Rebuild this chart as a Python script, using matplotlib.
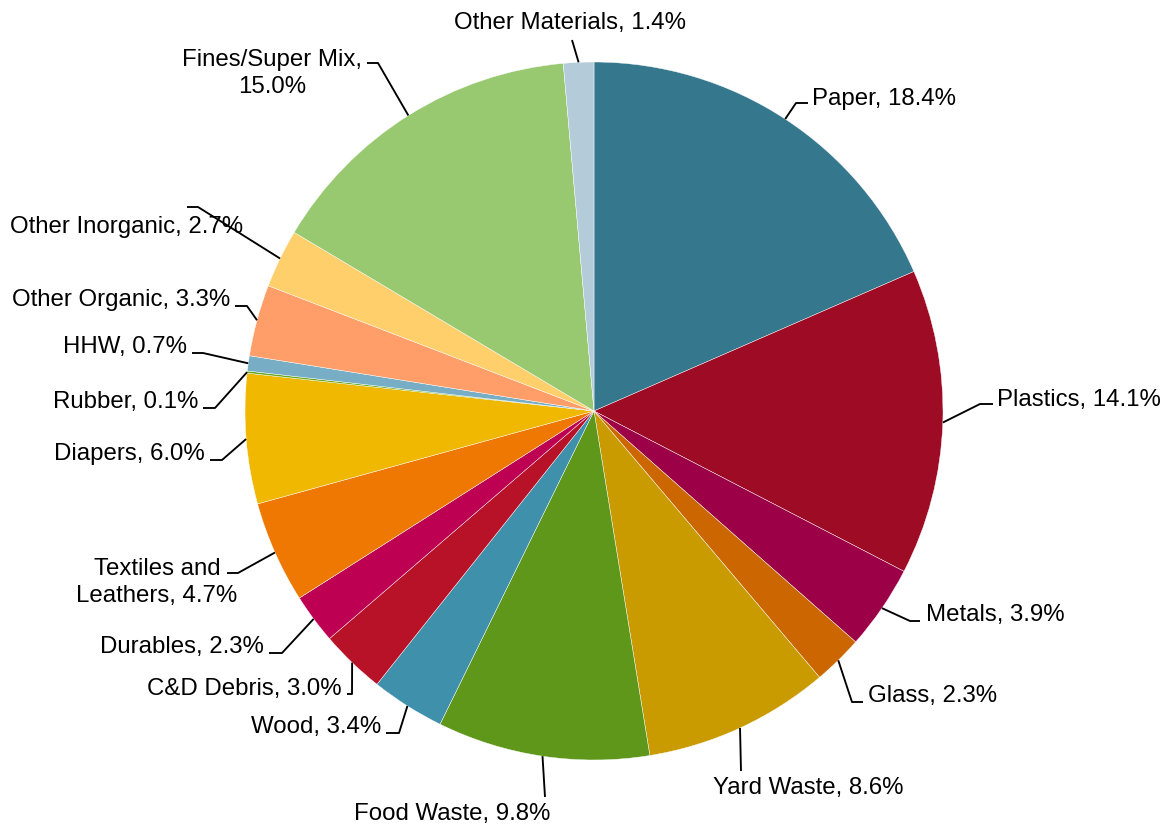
import matplotlib.pyplot as plt
import numpy as np

plt.rcParams['font.family'] = ['Liberation Sans', 'DejaVu Sans']

# waste composition, clockwise from 12 o'clock
materials = ["Paper", "Plastics", "Metals", "Glass", "Yard Waste", "Food Waste",
             "Wood", "C&D Debris", "Durables", "Textiles and\nLeathers", "Diapers",
             "Rubber", "HHW", "Other Organic", "Other Inorganic", "Fines/Super Mix",
             "Other Materials"]
shares = [18.4, 14.1, 3.9, 2.3, 8.6, 9.8, 3.4, 3.0, 2.3, 4.7, 6.0,
          0.1, 0.7, 3.3, 2.7, 15.0, 1.4]
colors = ["#35788E", "#9E0B25", "#9C0046", "#CC6601", "#C99B00", "#5E9719",
          "#3F90AB", "#B81229", "#BE0052", "#EE7801", "#F0B801", "#6BAA1F",
          "#77AEC5", "#FF9E69", "#FFCF6C", "#98C971", "#B4CCDA"]

W, H = 1171, 824
CX, CY, R = 594, 411, 349   # pie centre / radius in pixels (top-left origin)

# label layout in pixels: (elbow, end of leader, baseline of last text line, ha)
layout = [
    ((796, 103), (808, 103), (812, 105), "left"),
    ((980, 404), (993, 404), (997, 406), "left"),
    ((910, 621), (920, 621), (926, 621), "left"),
    ((852, 702), (863, 702), (868, 702), "left"),
    ((741, 771), (741, 771), (713, 794), "left"),
    ((545, 797), (545, 797), (354, 820), "left"),
    ((399, 733), (386, 733), (381, 733), "right"),
    ((352, 694), (347, 694), (342, 695), "right"),
    ((282, 653), (269, 653), (264, 653), "right"),
    ((238, 573), (227, 573), (157, 602), "center"),
    ((222, 460), (210, 460), (205, 460), "right"),
    ((215, 408), (203, 408), (198, 408), "right"),
    ((203, 353), (192, 353), (187, 353), "right"),
    ((247, 306), (235, 306), (230, 306), "right"),
    ((198, 207), (187, 207), (243, 233), "right"),
    ((378, 63), (367, 63), (272, 93), "center"),
    ((572, 40), (572, 40), (570, 29), "center"),
]


def px(x, y):
    return x, H - y


fig = plt.figure(figsize=(W / 100, H / 100), dpi=100)
ax = fig.add_axes([0, 0, 1, 1])

wedges, _ = ax.pie(shares, colors=colors, startangle=90, counterclock=False,
                   center=px(CX, CY), radius=R,
                   wedgeprops=dict(edgecolor="white", linewidth=0.3))

for w, name, val, (elbow, end, txt, ha) in zip(wedges, materials, shares, layout):
    mid = np.deg2rad((w.theta1 + w.theta2) / 2)
    sx, sy = w.center[0] + w.r * np.cos(mid), w.center[1] + w.r * np.sin(mid)
    ex, ey = px(*elbow)
    nx, ny = px(*end)
    ax.plot([sx, ex, nx], [sy, ey, ny], color="black", lw=1.35,
            solid_capstyle="butt", zorder=3)
    sep = ",\n" if name == "Fines/Super Mix" else ", "
    ax.text(*px(*txt), f"{name}{sep}{val:.1f}%", ha=ha, va="baseline",
            multialignment="center", linespacing=1.27, fontsize=17.3,
            color="black", zorder=4)

ax.set_xlim(0, W)
ax.set_ylim(0, H)
ax.set_aspect("auto")
ax.axis("off")

fig.savefig("out.png", dpi=100, facecolor="white")
